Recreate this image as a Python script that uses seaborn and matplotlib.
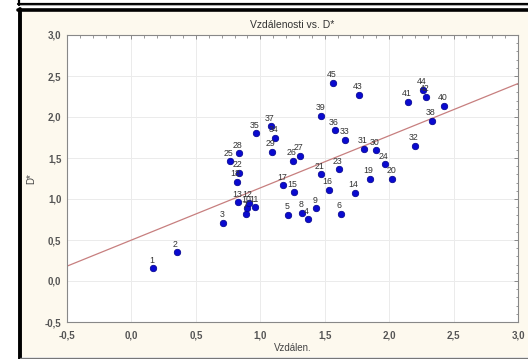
import numpy as np
import pandas as pd
import matplotlib
matplotlib.use("Agg")
import matplotlib.pyplot as plt
from matplotlib.ticker import MultipleLocator, FuncFormatter
from matplotlib.lines import Line2D
from matplotlib.patches import Rectangle
import seaborn as sns

# Case numbers, distance (Vzdálen.) and D* values
ids = list(range(1, 46))
vzdalen = [0.165, 0.353, 0.712, 1.367, 1.216, 1.625, 0.891, 1.325, 1.433, 0.899,
           0.961, 0.912, 0.829, 1.733, 1.260, 1.534, 1.178, 0.816, 1.852, 2.026,
           1.470, 0.837, 1.607, 1.966, 0.767, 1.253, 1.307, 0.832, 1.088, 1.901,
           1.803, 2.198, 1.661, 1.115, 0.968, 1.578, 1.082, 2.336, 1.475, 2.429,
           2.150, 2.284, 1.767, 2.263, 1.563]
d_star = [0.158, 0.348, 0.712, 0.756, 0.809, 0.822, 0.820, 0.834, 0.886, 0.894,
          0.902, 0.955, 0.962, 1.076, 1.080, 1.113, 1.169, 1.210, 1.246, 1.250,
          1.300, 1.320, 1.360, 1.424, 1.460, 1.468, 1.530, 1.560, 1.574, 1.593,
          1.614, 1.650, 1.723, 1.750, 1.800, 1.840, 1.890, 1.954, 2.015, 2.136,
          2.184, 2.249, 2.270, 2.330, 2.415]

df = pd.DataFrame({"id": ids, "Vzdálen.": vzdalen, "D*": d_star})

sns.set_theme(style="white")
plt.rcParams["font.family"] = ["Liberation Sans", "DejaVu Sans"]

W, H = 528, 359
fig = plt.figure(figsize=(W / 100, H / 100), dpi=100)
fig.patch.set_facecolor("white")


def fx(px):
    return px / W


def fy(py):
    return 1 - py / H


# Window-like panel behind the plot
fig.patches.append(Rectangle((fx(20), fy(357)), fx(528) - fx(20), fy(11) - fy(357),
                             transform=fig.transFigure, facecolor="#fdf9ee",
                             edgecolor="none", zorder=-5))
frame_lines = [
    ([fx(18), 1], [fy(3.5), fy(3.5)], "black", 1.6),
    ([fx(18), 1], [fy(5.2), fy(5.2)], "#aaaaaa", 0.8),
    ([fx(18), 1], [fy(9.8), fy(9.8)], "black", 2.6),
    ([fx(19.5), fx(19.5)], [fy(359), fy(8.5)], "black", 2.8),
    ([fx(18.5), fx(18.5)], [fy(4.5), 1], "black", 1.6),
    ([fx(20), 1], [fy(357.5), fy(357.5)], "#777777", 1.0),
]
for xs, ys, c, lw in frame_lines:
    fig.lines.append(Line2D(xs, ys, transform=fig.transFigure, color=c, lw=lw, zorder=-4))

ax = fig.add_axes([fx(67), fy(322), fx(518) - fx(67), fy(35) - fy(322)])
ax.set_zorder(2)
ax.set_facecolor("white")
ax.set_xlim(-0.5, 3.0)
ax.set_ylim(-0.5, 3.0)

# Least-squares line across the full x range
sns.regplot(data=df, x="Vzdálen.", y="D*", ax=ax, ci=None, truncate=False,
            scatter=False, line_kws={"color": "#c77f7f", "lw": 0.9})
sns.scatterplot(data=df, x="Vzdálen.", y="D*", ax=ax, color="#0a0ad0",
                edgecolor="#00008a", linewidth=0.5, s=22, zorder=3)

for i, xv, yv in zip(ids, vzdalen, d_star):
    ax.annotate(str(i), (xv, yv), xytext=(-1, 2.5), textcoords="offset points",
                ha="center", va="bottom", fontsize=6.3, color="#333333", zorder=4)

ax.set_xlim(-0.5, 3.0)
ax.set_ylim(-0.5, 3.0)
ax.xaxis.set_major_locator(MultipleLocator(0.5))
ax.yaxis.set_major_locator(MultipleLocator(0.5))
ax.xaxis.set_minor_locator(MultipleLocator(0.1))
ax.yaxis.set_minor_locator(MultipleLocator(0.1))
comma = FuncFormatter(lambda v, p: f"{v:.1f}".replace(".", ","))
ax.xaxis.set_major_formatter(comma)
ax.yaxis.set_major_formatter(comma)
ax.grid(True, which="major", color="#ebebeb", lw=0.7)
ax.set_axisbelow(True)
ax.tick_params(which="both", direction="in", top=True, right=True, color="#888888",
               labelsize=7, labelcolor="#555555")
ax.tick_params(axis="x", which="major", pad=6)
ax.tick_params(axis="y", which="major", pad=4)
ax.tick_params(which="major", length=3, width=0.7)
ax.tick_params(which="minor", length=1.8, width=0.6)
for lab in ax.get_xticklabels() + ax.get_yticklabels():
    lab.set_fontweight("bold")
for s in ax.spines.values():
    s.set_color("#888888")
    s.set_linewidth(0.8)

ax.set_xlabel("Vzdálen.", fontsize=7, color="#444444", labelpad=2)
ax.set_ylabel("D*", fontsize=7, color="#444444", labelpad=6)
ax.set_title("Vzdálenosti vs. D*", fontsize=7.5, color="#333333", pad=5)

fig.savefig("out.png", dpi=100, facecolor=fig.get_facecolor())
